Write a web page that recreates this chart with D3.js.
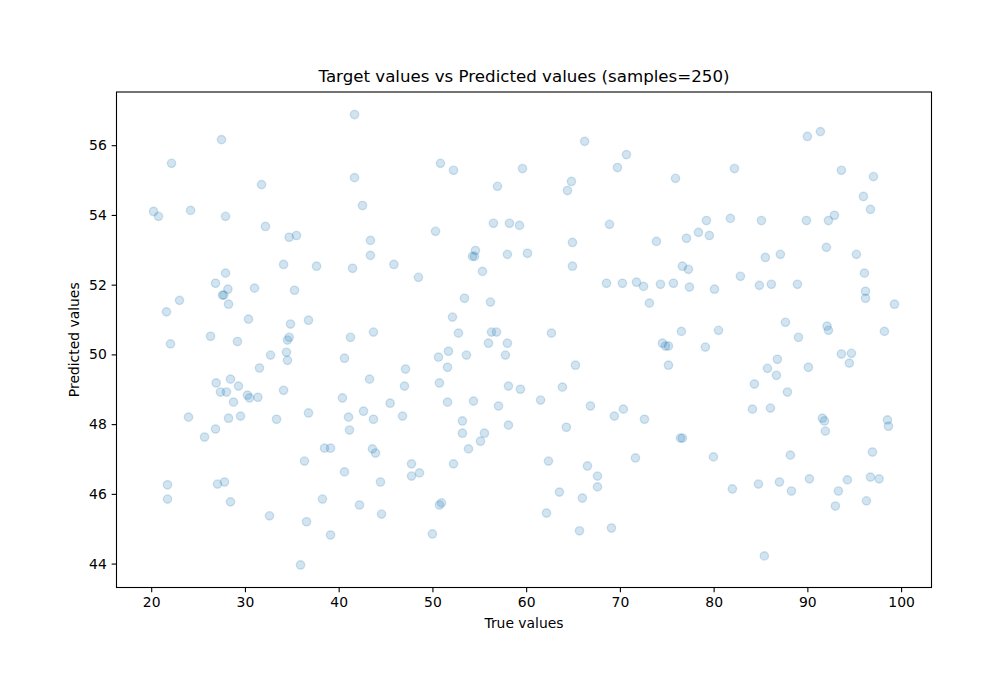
<!DOCTYPE html>
<html>
<head>
<meta charset="utf-8">
<script src="https://cdn.jsdelivr.net/npm/d3@7"></script>
<style>
  body { margin: 0; background: #fff; }
  text { font-family: "DejaVu Sans", sans-serif; fill: #000; }
</style>
</head>
<body>
<svg id="chart" width="1000" height="700"></svg>
<script>
const trueValues = [
  41.69,27.5,22.17,31.77,41.69,20.25,20.78,24.2,27.93,42.54,32.19,34.72,35.5,43.39,43.39,45.89,34.12,37.64,41.48,27.93,
  26.86,28.18,31.02,35.29,27.6,27.75,28.25,23.02,21.63,30.38,34.86,36.78,43.71,41.26,26.33,34.72,34.54,22.06,29.2,
  34.43,34.54,32.73,31.55,40.62,43.29,26.93,28.46,29.31,27.39,28.03,30.27,30.49,31.38,28.78,34.12,40.4,45.49,23.98,
  28.25,29.53,33.37,36.78,41.05,42.65,43.71,41.15,26.86,25.69,38.49,39.13,43.6,43.93,36.35,40.62,44.46,21.74,21.74,
  27.07,27.82,28.46,38.27,42.22,44.57,32.62,36.57,39.13,35.93,
  66.24,70.7,69.74,50.86,52.25,59.61,56.94,64.83,64.41,56.51,58.22,59.29,68.89,50.33,64.94,73.9,54.59,54.27,54.49,
  58.0,60.14,64.94,48.51,55.34,68.57,70.27,71.77,72.52,74.33,73.15,53.42,56.19,52.14,52.78,56.3,56.83,62.7,
  55.98,58.0,57.79,50.65,51.71,53.63,51.61,47.13,65.26,74.54,74.86,75.18,75.18,47.02,50.75,58.11,59.39,63.87,51.61,
  54.38,57.05,61.54,66.86,69.41,70.37,72.62,46.81,64.29,53.2,58.11,53.2,55.55,55.13,53.85,52.25,62.38,66.54,67.61,
  67.61,71.66,47.77,47.77,48.62,63.55,66.0,50.75,50.97,62.17,65.69,69.1,50.0,
  90.0,91.39,82.22,75.93,93.63,97.05,95.98,96.73,79.23,81.79,85.1,89.9,92.25,92.89,78.38,79.55,77.1,92.03,85.52,
  87.12,95.23,76.67,77.31,82.86,96.09,75.71,77.42,80.09,84.88,86.16,88.94,96.2,96.2,99.29,87.66,76.56,80.52,92.1,
  92.25,98.22,89.05,
  79.12,93.63,94.7,94.48,86.8,85.74,86.7,90.11,84.35,87.87,84.14,86.06,91.6,91.82,91.92,98.54,98.65,76.46,76.67,
  79.98,88.19,96.94,82.0,84.78,87.02,88.3,90.22,93.31,94.27,96.73,97.65,92.99,96.3,85.41
];
const predictedValues = [
  56.88,56.16,55.48,54.87,55.07,54.10,53.96,54.13,53.96,54.27,53.67,53.36,53.41,53.27,52.84,52.58,52.58,52.53,52.47,52.33,
  52.04,51.87,51.9,51.84,51.70,51.70,51.44,51.55,51.22,51.01,50.87,50.98,50.64,50.49,50.52,50.49,50.41,50.30,50.37,
  50.06,49.83,49.98,49.61,49.89,49.29,49.18,49.29,49.09,48.92,48.92,48.83,48.75,48.77,48.63,48.97,48.75,48.6,48.2,
  48.17,48.23,48.14,48.32,48.2,48.37,48.14,47.83,47.86,47.63,47.31,47.31,47.29,47.17,46.94,46.63,46.34,46.26,45.85,
  46.28,46.34,45.77,45.85,45.68,45.42,45.37,45.2,44.82,43.96,
  56.11,55.73,55.36,55.48,55.28,55.33,54.82,54.96,54.7,53.76,53.76,53.7,53.73,53.53,53.21,53.24,52.98,52.81,52.81,
  52.87,52.9,52.53,52.21,52.38,52.04,52.04,52.07,51.95,52.01,51.47,51.61,51.5,51.07,50.61,50.64,50.64,50.61,
  50.32,50.32,49.98,49.92,50.09,49.98,49.63,49.58,49.69,50.32,50.24,50.24,49.69,49.09,49.18,49.09,49.0,49.06,48.63,
  48.66,48.52,48.69,48.52,48.23,48.43,48.14,48.23,47.91,48.09,47.97,47.74,47.74,47.51,47.29,46.86,46.94,46.8,46.51,
  46.2,47.03,46.86,46.51,46.6,46.05,45.88,45.68,45.74,45.45,44.94,45.02,44.85,
  56.25,56.39,55.33,55.05,55.28,55.1,54.53,54.16,53.84,53.9,53.84,53.84,53.84,53.99,53.5,53.41,53.33,53.07,52.78,
  52.87,52.87,52.53,52.44,52.24,52.33,52.04,51.93,51.87,51.98,52.01,52.01,51.81,51.61,51.44,50.92,50.66,50.69,50.81,
  50.69,50.66,50.49,
  50.21,50.01,50.03,49.75,49.86,49.6,49.4,49.63,49.15,48.92,48.43,48.46,48.17,48.09,47.8,48.12,47.94,47.6,47.6,
  47.06,47.11,47.2,46.14,46.28,46.34,46.08,46.43,46.08,46.4,46.48,46.43,45.65,45.8,44.22
];
const xTicks = [20, 30, 40, 50, 60, 70, 80, 90, 100];
const yTicks = [44, 46, 48, 50, 52, 54, 56];
const titleText = "Target values vs Predicted values (samples=250)";
const xLabel = "True values";
const yLabel = "Predicted values";

const points = trueValues.map((t, i) => ({ x: t, y: predictedValues[i] }));

const svg = d3.select("#chart");
const L = 116.5, R = 931.5, T = 92, B = 587.5;

function padded(ext) {
  const d = ext[1] - ext[0];
  return [ext[0] - 0.05 * d, ext[1] + 0.05 * d];
}
const x = d3.scaleLinear().domain(padded(d3.extent(trueValues))).range([L, R]);
const y = d3.scaleLinear().domain(padded(d3.extent(predictedValues))).range([B, T]);

const tickLen = 4.86, fontSize = 13.9;

// points
svg.append("g").selectAll("circle")
  .data(points).join("circle")
  .attr("cx", d => x(d.x))
  .attr("cy", d => y(d.y))
  .attr("r", 4.17)
  .attr("fill", "#1f77b4").attr("fill-opacity", 0.2)
  .attr("stroke", "#1f77b4").attr("stroke-opacity", 0.2)
  .attr("stroke-width", 1.39);

// x axis
const xAxis = d3.axisBottom(x).tickValues(xTicks).tickSize(tickLen).tickPadding(4.86).tickFormat(d3.format("d"));
const gx = svg.append("g").attr("transform", `translate(0,${B})`).call(xAxis);
gx.select(".domain").remove();
gx.selectAll("line").attr("stroke", "#000").attr("stroke-width", 1.1);
gx.selectAll("text").attr("font-size", fontSize).attr("font-family", "DejaVu Sans").attr("fill", "#000");

const yAxis = d3.axisLeft(y).tickValues(yTicks).tickSize(tickLen).tickPadding(4.86).tickFormat(d3.format("d"));
const gy = svg.append("g").attr("transform", `translate(${L},0)`).call(yAxis);
gy.select(".domain").remove();
gy.selectAll("line").attr("stroke", "#000").attr("stroke-width", 1.1);
gy.selectAll("text").attr("font-size", fontSize).attr("font-family", "DejaVu Sans").attr("fill", "#000");

// frame
svg.append("rect").attr("x", L).attr("y", T).attr("width", R - L).attr("height", B - T)
  .attr("fill", "none").attr("stroke", "#000").attr("stroke-width", 1.1);

// labels
svg.append("text").attr("x", (L + R) / 2).attr("y", 628)
  .attr("text-anchor", "middle").attr("font-size", fontSize).text(xLabel);
svg.append("text").attr("transform", `translate(79,${(T + B) / 2}) rotate(-90)`)
  .attr("text-anchor", "middle").attr("font-size", fontSize).text(yLabel);
svg.append("text").attr("x", (L + R) / 2).attr("y", 82)
  .attr("text-anchor", "middle").attr("font-size", 16.67).text(titleText);
</script>
</body>
</html>
